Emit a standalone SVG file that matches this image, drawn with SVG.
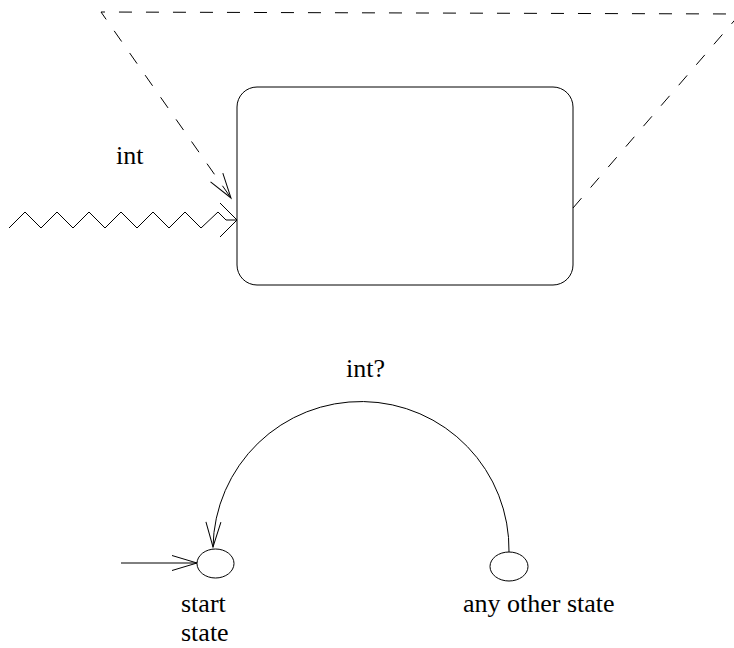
<svg xmlns="http://www.w3.org/2000/svg" width="734" height="648" viewBox="0 0 734 648">
  <style>
    .line { fill: none; stroke: #000; stroke-width: 1; }
    .dash { stroke-dasharray: 13 14; }
    .node { fill: #fff; stroke: #000; stroke-width: 1; }
    text { font-family: 'Liberation Serif', 'DejaVu Serif', serif; font-size: 26px; fill: #000; }
  </style>
  <defs>
    <!-- narrow open arrowhead -->
    <marker id="open-arrow" markerUnits="userSpaceOnUse" viewBox="0 0 26 16" refX="25" refY="8" markerWidth="26" markerHeight="16" orient="auto" overflow="visible">
      <path d="M0,0.5 L25,8 L0,15.5" fill="none" stroke="#000" stroke-width="1" stroke-dasharray="none"/>
    </marker>
    <!-- wide open arrowhead for the interrupt line -->
    <marker id="wide-arrow" markerUnits="userSpaceOnUse" viewBox="0 0 18 36" refX="17" refY="18" markerWidth="18" markerHeight="36" orient="auto" overflow="visible">
      <path d="M0,1 L17,18 L0,35" fill="none" stroke="#000" stroke-width="1"/>
    </marker>
  </defs>

  <!-- state box -->
  <g id="state-box">
    <rect class="node" x="237" y="87" width="336" height="198" rx="20" ry="20"/>
  </g>

  <!-- small states -->
  <g id="start-state">
    <ellipse class="node" cx="215.5" cy="563.5" rx="18.5" ry="14.5"/>
    <text font-family="Liberation Serif, serif" x="181" y="612">start</text>
    <text font-family="Liberation Serif, serif" x="181" y="641">state</text>
  </g>
  <g id="other-state">
    <ellipse class="node" cx="509" cy="566.5" rx="19" ry="14.5"/>
    <text font-family="Liberation Serif, serif" x="463" y="612">any other state</text>
  </g>

  <!-- connectors -->
  <g id="connectors">
    <!-- dashed return loop around the box -->
    <path class="line dash" d="M573,208 L740,14 L101,12 L231,198" marker-end="url(#open-arrow)"/>
    <!-- interrupt (zigzag) -->
    <path class="line" d="M9,228 L25,212 L41,228 L57,212 L73,228 L89,212 L105,228 L121,212 L137,228 L153,212 L169,228 L185,212 L201,228 L218,212 L226,220 L237,220" marker-end="url(#wide-arrow)"/>
    <!-- entry arrow -->
    <path class="line" d="M121,563 L197,563" marker-end="url(#open-arrow)"/>
    <!-- int? transition -->
    <path class="line" d="M509,552 A148,148 0 0 0 213,547" marker-end="url(#open-arrow)"/>
  </g>

  <!-- labels -->
  <g id="labels">
    <text font-family="Liberation Serif, serif" x="116" y="164">int</text>
    <text font-family="Liberation Serif, serif" x="346" y="377">int?</text>
  </g>
</svg>
